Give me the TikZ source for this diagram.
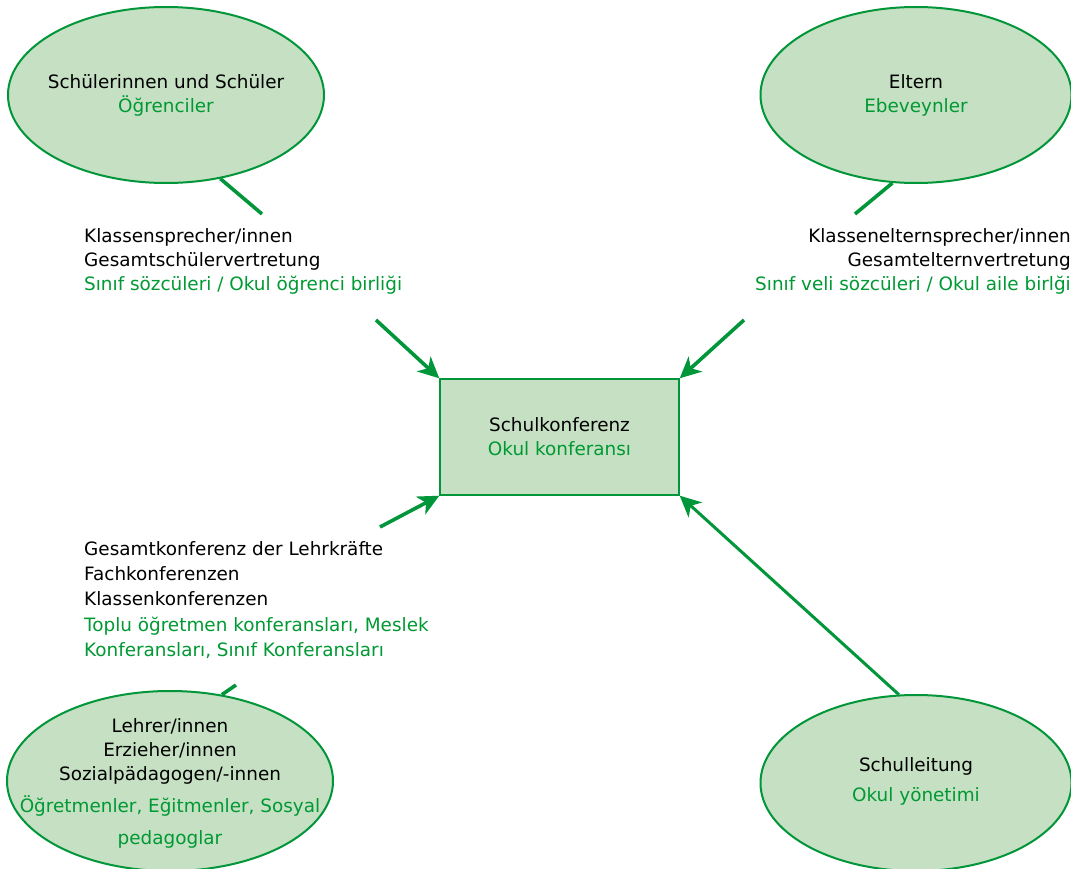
\documentclass[tikz,border=0pt]{standalone}
\usepackage{fontspec}
\setmainfont{DejaVu Sans}
\usetikzlibrary{shapes.geometric,arrows.meta}
\definecolor{lgreen}{RGB}{0,150,57}
\definecolor{lfill}{RGB}{198,224,195}
\definecolor{tgreen}{RGB}{0,153,51}
\tikzset{
  bubble/.style={ellipse,draw=lgreen,line width=2pt,fill=lfill,inner sep=0pt},
  confbox/.style={rectangle,draw=lgreen,line width=1.4pt,fill=lfill,inner sep=0pt,minimum width=239pt,minimum height=116pt},
  lab/.style={inner sep=0pt,font=\fontsize{18.4}{24}\selectfont},
  link/.style={draw=lgreen,line width=3.6pt},
  arr/.style={link,-{Stealth[length=21pt,width=20pt,inset=6pt]}},
}
\begin{document}
\begin{tikzpicture}[x=1pt,y=-1pt]
\useasboundingbox[fill=white] (0,0) rectangle (1071,869);
\node[bubble,minimum width=316pt,minimum height=176pt] (e1) at (166,95) {};
\node[bubble,minimum width=311pt,minimum height=176pt] (e2) at (916,95) {};
\node[bubble,minimum width=326pt,minimum height=180pt] (e3) at (170,781) {};
\node[bubble,minimum width=311pt,minimum height=176pt] (e4) at (916,783) {};
\node[confbox] (k) at (559.5,437) {};

\node[lab,align=center] (t1) at (e1) {Schülerinnen und Schüler\\\textcolor{tgreen}{Öğrenciler}};
\node[lab,align=center] (t2) at (e2) {Eltern\\\textcolor{tgreen}{Ebeveynler}};
\node[lab,align=center] (t3) at (170,783) {Lehrer/innen\\Erzieher/innen\\Sozialpädagogen/-innen\\[8pt]\textcolor{tgreen}{Öğretmenler, Eğitmenler, Sosyal}\\[8pt]\textcolor{tgreen}{pedagoglar}};
\node[lab,align=center] (t4) at (916,781) {Schulleitung\\[6pt]\textcolor{tgreen}{Okul yönetimi}};
\node[lab,align=center] (tk) at (k) {Schulkonferenz\\\textcolor{tgreen}{Okul konferansı}};

\node[lab,anchor=west,align=left] (l1) at (84,261) {Klassensprecher/innen\\Gesamtschülervertretung\\\textcolor{tgreen}{Sınıf sözcüleri / Okul öğrenci birliği}};
\node[lab,anchor=east,align=right] (l2) at (1071,261) {Klassenelternsprecher/innen\\Gesamtelternvertretung\\\textcolor{tgreen}{Sınıf veli sözcüleri / Okul aile birlği}};
\node[lab,anchor=west,align=left,font=\fontsize{18.4}{25.2}\selectfont] (l3) at (84,600) {Gesamtkonferenz der Lehrkräfte\\Fachkonferenzen\\Klassenkonferenzen\\\textcolor{tgreen}{Toplu öğretmen konferansları, Meslek}\\\textcolor{tgreen}{Konferansları, Sınıf Konferansları}};

\coordinate (a1) at (262,214);
\coordinate (b1) at (376,320);
\coordinate (a2) at (855,214);
\coordinate (b2) at (744,320);
\coordinate (a3) at (236,685);
\coordinate (b3) at (380,527);

\draw[link] (e1.-57) -- (a1);
\draw[arr] (b1) -- (k.north west);
\draw[link] (e2.-105) -- (a2);
\draw[arr] (b2) -- (k.north east);
\draw[link] (e3.59) -- (a3);
\draw[arr] (b3) -- (k.south west);
\draw[arr,line width=3pt] (e4.101) -- (k.south east);
\end{tikzpicture}
\end{document}
